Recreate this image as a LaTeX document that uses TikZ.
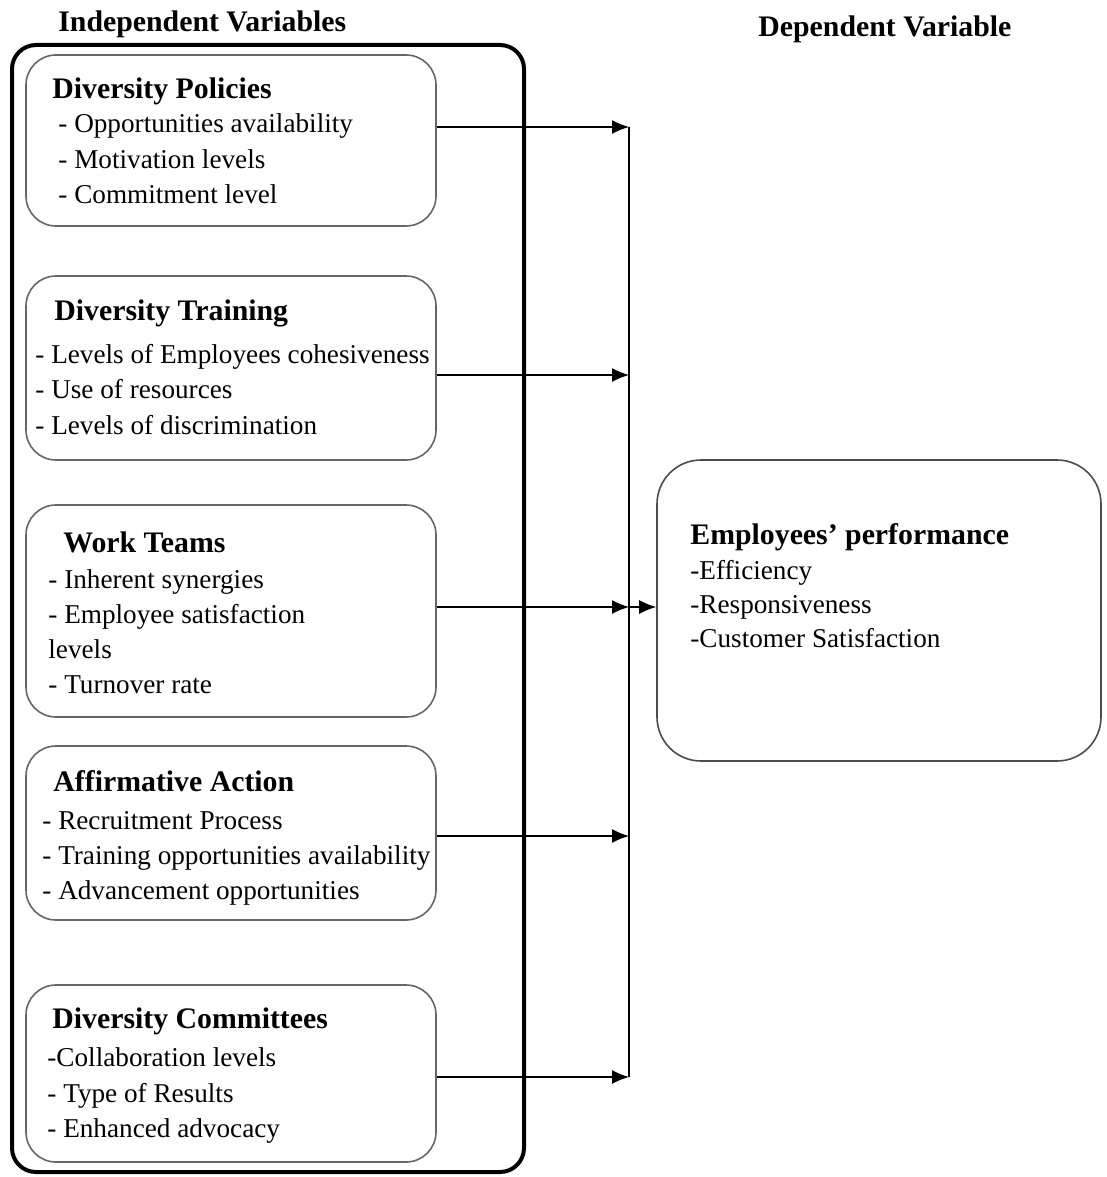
\documentclass[tikz,border=0pt]{standalone}
\usepackage{fontspec}
\setmainfont{Liberation Serif}
\usetikzlibrary{fit,arrows.meta}
\begin{document}
\begin{tikzpicture}[x=0.5pt,y=-0.5pt,
  outerbox/.style={draw=black, line width=2pt, rounded corners=12pt, inner sep=0pt, fit={#1}},
  ibox/.style={draw=black!60, line width=0.8pt, rounded corners=15pt, inner sep=0pt, fit={#1}},
  dbox/.style={draw=black!70, line width=0.8pt, rounded corners=22pt, inner sep=0pt, fit={#1}},
  lbl/.style={anchor=base west, inner sep=0pt, font=\fontsize{13.6}{16}\selectfont},
  hd/.style={anchor=base west, inner sep=0pt, font=\fontsize{14.9}{17}\selectfont\bfseries},
  arr/.style={line width=0.7pt, -{Latex[length=8.5pt,width=7pt]}},
  bus/.style={line width=0.7pt}]
\useasboundingbox (0,0) rectangle (1107,1177);

% headings
\node[hd] (hind) at (58,32) {Independent Variables};
\node[hd] (hdep) at (758,37) {Dependent Variable};

% outer frame
\node[outerbox={(12,45)(524,1172)}] (outer) {};

% inner boxes
\node[ibox={(26,55)(436,226)}] (b1) {};
\node[ibox={(26,276)(436,460)}] (b2) {};
\node[ibox={(26,505)(436,717)}] (b3) {};
\node[ibox={(26,746)(436,920)}] (b4) {};
\node[ibox={(26,985)(436,1162)}] (b5) {};
\node[dbox={(657,460)(1101,761)}] (dv) {};

% box 1
\node[hd]  (t1) at (52,98)  {Diversity Policies};
\node[lbl] (t1a) at (58,133) {- Opportunities availability};
\node[lbl] (t1b) at (58,168) {- Motivation levels};
\node[lbl] (t1c) at (58,203) {- Commitment level};

% box 2
\node[hd]  (t2) at (54,320)  {Diversity Training};
\node[lbl] (t2a) at (35,363) {- Levels of Employees cohesiveness};
\node[lbl] (t2b) at (35,398) {- Use of resources};
\node[lbl] (t2c) at (35,434) {- Levels of discrimination};

% box 3
\node[hd]  (t3) at (63,552)  {Work Teams};
\node[lbl] (t3a) at (48,588) {- Inherent synergies};
\node[lbl] (t3b) at (48,623) {- Employee satisfaction};
\node[lbl] (t3c) at (48,658) {levels};
\node[lbl] (t3d) at (48,693) {- Turnover rate};

% box 4
\node[hd]  (t4) at (53,791)  {Affirmative Action};
\node[lbl] (t4a) at (42,829) {- Recruitment Process};
\node[lbl] (t4b) at (42,864) {- Training opportunities availability};
\node[lbl] (t4c) at (42,899) {- Advancement opportunities};

% box 5
\node[hd]  (t5) at (52,1028)  {Diversity Committees};
\node[lbl] (t5a) at (47,1066) {-Collaboration levels};
\node[lbl] (t5b) at (47,1102) {- Type of Results};
\node[lbl] (t5c) at (47,1137) {- Enhanced advocacy};

% dependent box text
\node[hd]  (td) at (690,544) {Employees’ performance};
\node[lbl] (tda) at (690,579) {-Efficiency};
\node[lbl] (tdb) at (690,613) {-Responsiveness};
\node[lbl] (tdc) at (690,647) {-Customer Satisfaction};

% junction points on the bus
\coordinate (j1) at (629,127);
\coordinate (j2) at (629,375);
\coordinate (j3) at (629,607);
\coordinate (j4) at (629,836);
\coordinate (j5) at (629,1077);

\draw[bus] (j1) -- (j5);
\draw[arr] (b1.east |- j1) -- (j1);
\draw[arr] (b2.east |- j2) -- (j2);
\draw[arr] (b3.east |- j3) -- (j3);
\draw[arr] (b4.east |- j4) -- (j4);
\draw[arr] (b5.east |- j5) -- (j5);
\draw[arr] (j3) -- (dv.west |- j3);
\end{tikzpicture}
\end{document}
